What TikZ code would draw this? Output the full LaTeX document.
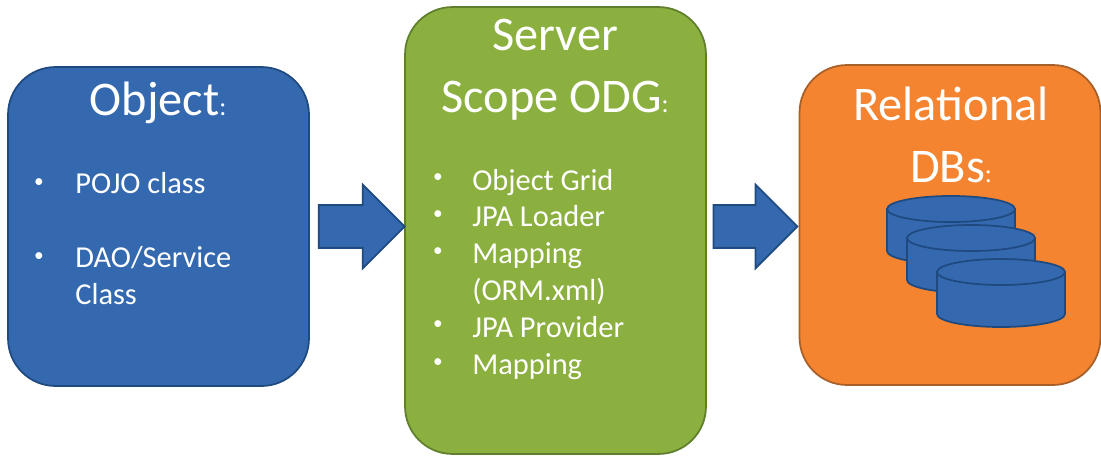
\documentclass[tikz,border=0pt]{standalone}
\usepackage{fontspec}
\setmainfont{Carlito}
\usetikzlibrary{positioning,shapes.arrows}
\definecolor{boxblue}{HTML}{3569AF}
\definecolor{edgeblue}{HTML}{1F4A80}
\definecolor{boxgreen}{HTML}{8BB03F}
\definecolor{edgegreen}{HTML}{5F7F2C}
\definecolor{boxorange}{HTML}{F58431}
\definecolor{edgeorange}{HTML}{A8602A}
\newcommand{\tinycolon}{{\fontsize{15}{15}\selectfont:}}
\newcommand{\dbdisk}[3]{%
	\coordinate (#1) at (#2,#3);
	\draw[dbstack] (#1) ++(-64,0) -- ++(0,42) arc[start angle=180, end angle=360, x radius=1.28cm, y radius=.26cm] -- ++(0,-42) -- cycle;
	\draw[dbstack] (#1) ellipse[x radius=1.28cm, y radius=.26cm];
}
\tikzset{
	panel/.style={draw, line width=1pt, rounded corners=.95cm, minimum width=6.02cm},
	headline/.style={text=white, font=\fontsize{27.5}{35}\selectfont, align=center},
	itemline/.style={text=white, font=\fontsize{17.3}{21}\selectfont, anchor=base west, inner sep=0pt},
	dotmark/.style={text=white, font=\fontsize{11}{13}\selectfont},
	flowarrow/.style={single arrow, draw=edgeblue, fill=boxblue, line width=1pt, inner sep=.41cm,
		single arrow head extend=.41cm, single arrow tip angle=90, minimum height=1.72cm},
	dbstack/.style={draw=edgeblue, fill=boxblue, line width=1pt},
}
\begin{document}
\begin{tikzpicture}[x=.02cm, y=-.02cm]
	\useasboundingbox (0,0) rectangle (1101,456);

	\node[panel, fill=boxblue, draw=edgeblue, minimum height=6.38cm] (objectbox) at (158.5,226.5) {};
	\node[panel, fill=boxgreen, draw=edgegreen, minimum height=8.94cm] (serverbox) at (555.5,230.5) {};
	\node[panel, fill=boxorange, draw=edgeorange, minimum height=6.4cm] (dbbox) at (950,225) {};

	\node[flowarrow, right=.16cm of objectbox] (objectarrow) {};
	\node[flowarrow, left=0cm of dbbox, yshift=-.03cm, minimum height=1.68cm] (serverarrow) {};

	\node[headline] (objecttitle) at (158,103) {Object\tinycolon};
	\node[headline] (servertitle) at (555,69.5) {Server\\Scope ODG\tinycolon};
	\node[headline] (dbtitle) at (951,135) {Relational\\DBs\tinycolon};

	%left list
	\foreach \name/\y/\txt in {pojo/193/POJO class, dao/267/{DAO/Service}, daoclass/304.5/Class}
		\node[itemline] (\name) at (75,\y) {\txt};
	\foreach \name/\y in {pojodot/183, daodot/257}
		\node[dotmark] (\name) at (39,\y) {•};

	%middle list
	\foreach \name/\y/\txt in {grid/190/Object Grid, loader/226.5/JPA Loader, mapa/263.5/Mapping,
		orm/300/(ORM.xml), provider/337/JPA Provider, mapb/374/Mapping}
		\node[itemline] (\name) at (472,\y) {\txt};
	\foreach \name/\y in {griddot/178, loaderdot/215, mapadot/252, providerdot/325, mapbdot/363}
		\node[dotmark] (\name) at (438,\y) {•};

	\dbdisk{dba}{951}{209}
	\dbdisk{dbb}{971}{238}
	\dbdisk{dbc}{1001}{272}
\end{tikzpicture}
\end{document}
